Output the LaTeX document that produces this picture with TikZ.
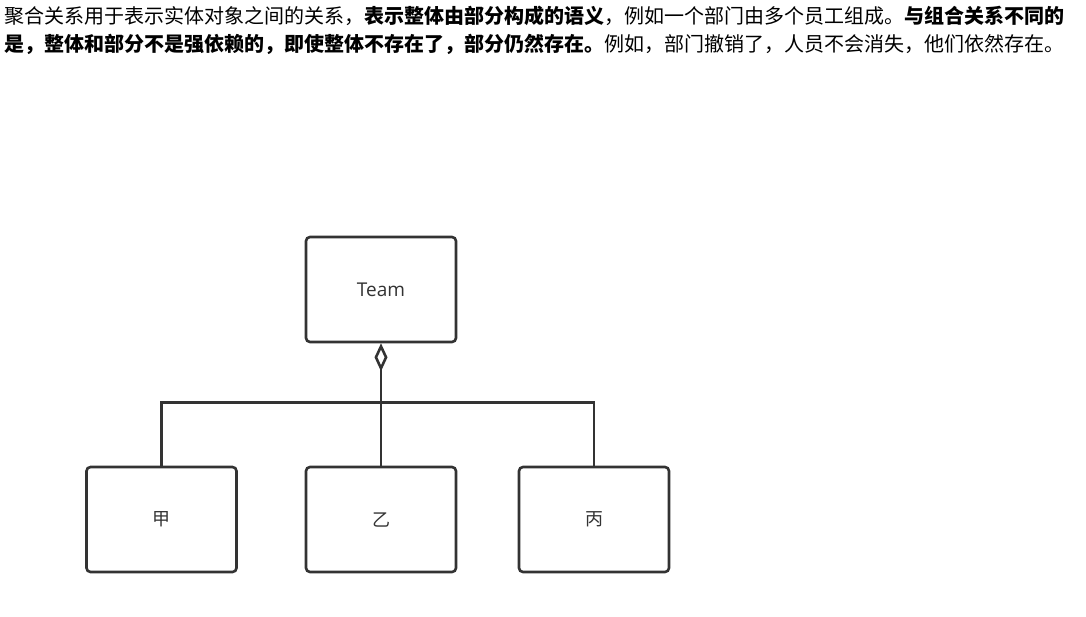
\documentclass[tikz,border=0pt]{standalone}
\usepackage{fontspec}
\usetikzlibrary{arrows.meta,calc}
\newfontfamily\cjk{Noto Sans CJK SC}
\newfontfamily\lblfont{Open Sans}
\definecolor{ink}{HTML}{333333}
\tikzset{
  cls/.style={draw=ink, line width=2.6pt, rounded corners=4pt, minimum width=150pt, minimum height=105pt, inner sep=0pt, fill=white},
  lbl/.style={text=ink, font=\cjk\fontsize{18}{18}\selectfont},
  conn/.style={draw=ink, line width=2.6pt, line join=miter},
  para/.style={anchor=west, inner sep=0pt, font=\cjk\fontsize{20}{20}\selectfont, text=black}
}
\begin{document}
\begin{tikzpicture}[x=1pt,y=-1pt]
\useasboundingbox (0,0) rectangle (1086,616);
\node[para] (l1) at (4,16) {聚合关系用于表示实体对象之间的关系，\textbf{表示整体由部分构成的语义}，例如一个部门由多个员工组成。\textbf{与组合关系不同的}};
\node[para] (l2) at (4,44) {\textbf{是，整体和部分不是强依赖的，即使整体不存在了，部分仍然存在。}例如，部门撤销了，人员不会消失，他们依然存在。};
\node[cls] (team) at (381,289.5) {};
\node[text=ink, font=\lblfont\fontsize{19}{19}\selectfont] (teamlbl) at (team.center) {Team};
\node[cls] (jia) at (161.5,519.5) {};
\node[lbl] (jial) at (jia.center) {甲};
\node[cls] (yi) at (381,519.5) {};
\node[lbl] (yil) at (yi.center) {乙};
\node[cls] (bing) at (594,519.5) {};
\node[lbl] (bingl) at (bing.center) {丙};
\draw[conn, -{Diamond[open, length=28pt, width=13pt, line width=2.6pt]}] (yi.north) -- (team.south);
\draw[conn] (jia.north) -- ++(0,-63) -| (bing.north);
\end{tikzpicture}
\end{document}
